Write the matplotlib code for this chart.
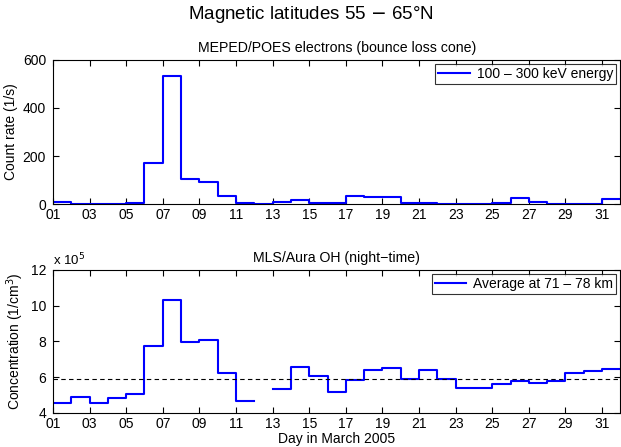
import numpy as np
import matplotlib.pyplot as plt

plt.rcParams['font.family'] = ['Liberation Sans', 'DejaVu Sans']

days = list(range(1, 32))
tick_days = list(range(1, 32, 2))
tick_labels = [f"{d:02d}" for d in tick_days]

# MEPED/POES electron count rate (1/s), daily
count_rate = [8, 2, 2, 2, 5, 172, 535, 105, 90, 32, 3, 2, 8, 16, 3, 3,
              32, 28, 28, 3, 3, 2, 2, 2, 6, 25, 7, 2, 2, 2, 20]

# MLS/Aura OH concentration (x 10^5 1/cm^3), daily; day 12 missing
oh_conc = [4.56, 4.90, 4.56, 4.82, 5.03, 7.76, 10.32, 7.98, 8.09, 6.24, 4.67,
           np.nan, 5.35, 6.59, 6.06, 5.16, 5.83, 6.39, 6.52, 5.91, 6.39, 5.89,
           5.40, 5.40, 5.59, 5.78, 5.68, 5.78, 6.24, 6.35, 6.47]
oh_mean = 5.9


def step_xy(xs, ys):
    x = list(xs) + [xs[-1] + 1]
    y = list(ys) + [ys[-1]]
    return x, y


fig = plt.figure(figsize=(6.21, 4.47), dpi=100)
ax1 = fig.add_axes([0.0853, 0.5436, 0.9137, 0.3222])
ax2 = fig.add_axes([0.0853, 0.0767, 0.9137, 0.3193])

x, y = step_xy(days, count_rate)
ax1.step(x, y, where='post', color='#0000ff', lw=1.5, label='100 \u2013 300 keV energy')
ax1.set_ylim(0, 600)
ax1.set_yticks([0, 200, 400, 600])
ax1.set_ylabel('Count rate (1/s)', fontsize=10, labelpad=3)
ax1.set_title('MEPED/POES electrons (bounce loss cone)', fontsize=10.2, pad=6)

x, y = step_xy(days, oh_conc)
ax2.step(x, y, where='post', color='#0000ff', lw=1.5, label='Average at 71 \u2013 78 km')
ax2.axhline(oh_mean, color='black', ls='--', lw=0.8, dashes=(4, 3))
ax2.set_ylim(4, 12)
ax2.set_yticks([4, 6, 8, 10, 12])
ax2.set_ylabel('Concentration (1/cm$^3$)', fontsize=10, labelpad=3)
ax2.set_title('MLS/Aura OH (night\u2212time)', fontsize=10.2, pad=6)
ax2.set_xlabel('Day in March 2005', fontsize=10, labelpad=0.5)
ax2.text(0.0, 1.015, 'x 10$^5$', transform=ax2.transAxes, fontsize=9.5, va='bottom', ha='left')

for ax in (ax1, ax2):
    ax.set_xlim(1, 32)
    ax.set_xticks(tick_days)
    ax.set_xticklabels(tick_labels)
    ax.tick_params(direction='in', top=True, right=True, labelsize=10, length=4)
    ax.tick_params(axis='x', pad=3)
    ax.tick_params(axis='y', pad=5)
    for s in ax.spines.values():
        s.set_linewidth(0.8)
    leg = ax.legend(loc='upper right', fontsize=10, frameon=True, fancybox=False,
                    borderaxespad=0.3, handlelength=2.3, borderpad=0.2,
                    handletextpad=0.5)
    leg.get_frame().set_edgecolor('black')
    leg.get_frame().set_linewidth(0.8)

fig.text(0.5, 0.99, 'Magnetic latitudes 55 $-$ 65\u00b0N', ha='center', va='top', fontsize=13.5)

fig.savefig('out.png', dpi=100)
